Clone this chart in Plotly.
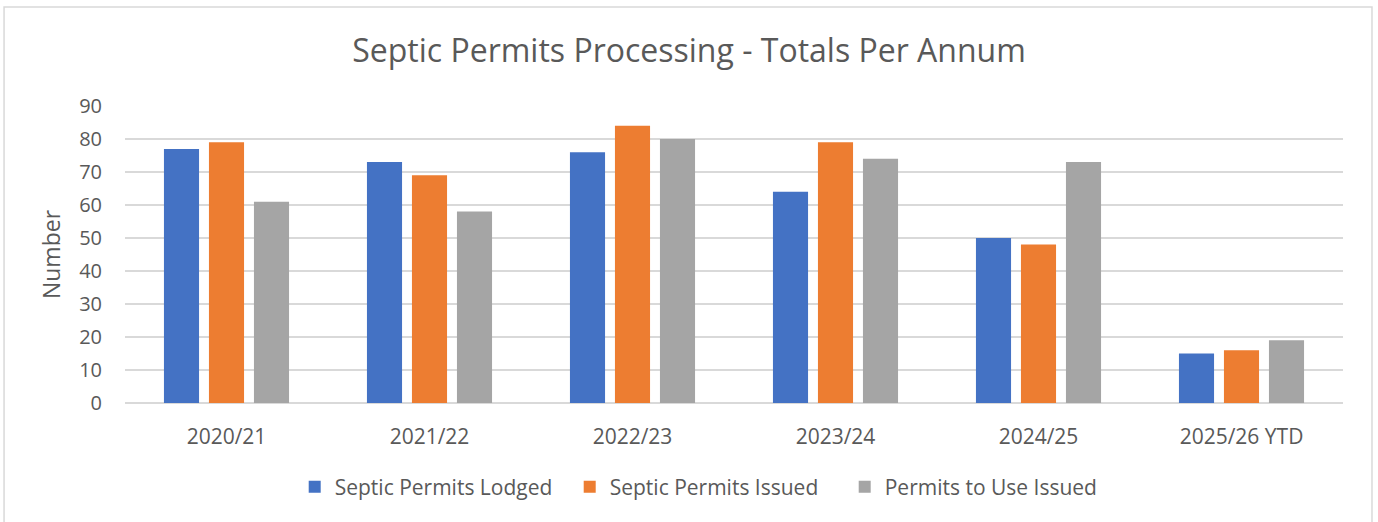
import plotly.graph_objects as go

categories = ["2020/21", "2021/22", "2022/23", "2023/24", "2024/25", "2025/26 YTD"]
lodged = [77, 73, 76, 64, 50, 15]
issued = [79, 69, 84, 79, 48, 16]
ptu_issued = [61, 58, 80, 74, 73, 19]
series_names = ["Septic Permits Lodged", "Septic Permits Issued", "Permits to Use Issued"]
colors = ["#4472C4", "#ED7D31", "#A5A5A5"]

fig = go.Figure()
for name, vals, c in zip(series_names, [lodged, issued, ptu_issued], colors):
    fig.add_trace(go.Bar(x=categories, y=vals, name=name, marker=dict(color=c, line=dict(width=0))))

FONT = "Open Sans"
fig.update_layout(
    width=1378, height=522,
    margin=dict(l=125, r=35, t=106, b=119),
    paper_bgcolor="white", plot_bgcolor="white",
    barmode="group", bargap=0.335, bargroupgap=0.22,
    title=dict(text="Septic Permits Processing - Totals Per Annum", x=0.5, xanchor="center",
               y=0.903, yanchor="middle",
               font=dict(family=FONT, size=32, color="#595959")),
    font=dict(family=FONT, color="#595959"),
    legend=dict(orientation="h", x=0.478, xanchor="center", y=-0.283, yanchor="middle",
                font=dict(family=FONT, size=21, color="#595959"), itemwidth=30,
                entrywidth=230, entrywidthmode="pixels",
                traceorder="normal"),
    xaxis=dict(showgrid=False, showline=False, ticks="", ticklabelstandoff=19,
               tickfont=dict(size=21, color="#595959")),
    yaxis=dict(range=[0, 90], dtick=10, showgrid=True, gridcolor="#D9D9D9", gridwidth=1.5,
               zeroline=True, zerolinecolor="#D9D9D9", zerolinewidth=1.5,
               ticks="", ticklabelstandoff=22, tickfont=dict(size=20, color="#595959"),
               title=dict(text="Number", font=dict(size=23, color="#595959"), standoff=12)),
    shapes=[dict(type="rect", xref="paper", yref="paper", x0=-0.0993, x1=1.0238, y0=-0.43, y1=1.3333,
                 line=dict(color="#D9D9D9", width=1.5), fillcolor="rgba(0,0,0,0)", layer="below")],
)

fig.write_html("out.html", config={"displayModeBar": False},
               post_script="document.body.style.margin='0';document.body.style.padding='0';")
